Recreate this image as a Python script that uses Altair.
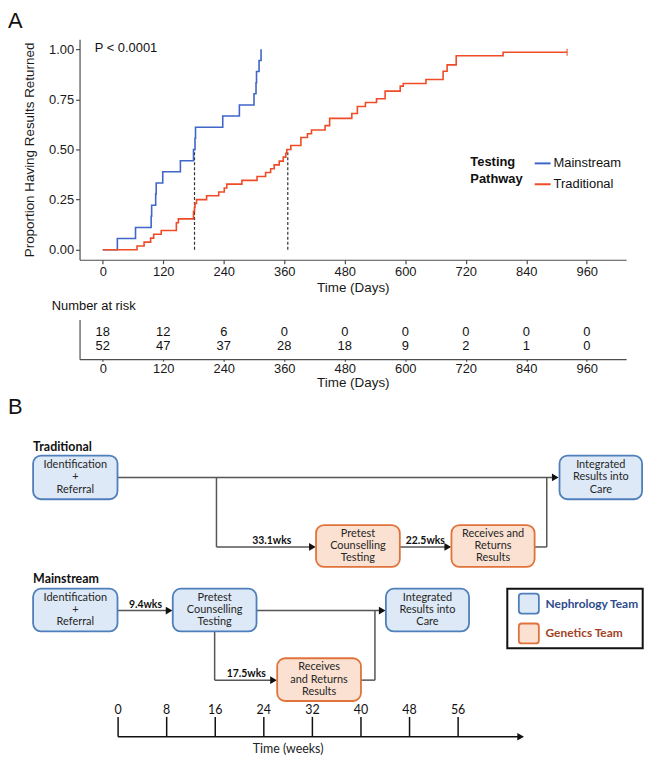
import altair as alt
import pandas as pd

# ---------------- Panel A data ----------------
main_days = [0, 29, 65, 96, 97, 105, 106, 119, 154, 180, 183, 184, 238, 271, 300, 304, 305, 310, 314]
main_prop = [0, 0.056, 0.111, 0.167, 0.222, 0.278, 0.333, 0.389, 0.444, 0.5, 0.556, 0.611,
             0.667, 0.722, 0.778, 0.833, 0.889, 0.944, 1.0]
trad_days = [0, 68, 82, 95, 101, 116, 146, 150, 180, 182, 183, 186, 206, 230, 241, 246, 276, 306,
             323, 333, 340, 350, 358, 363, 365, 373, 393, 406, 414, 441, 450, 494, 505, 521, 543,
             560, 590, 596, 641, 675, 683, 701, 794, 921]
trad_prop = [0, 0.019, 0.038, 0.058, 0.077, 0.096, 0.135, 0.154, 0.192, 0.212, 0.231, 0.25, 0.269,
             0.288, 0.308, 0.327, 0.346, 0.365, 0.385, 0.404, 0.423, 0.442, 0.462, 0.481, 0.5, 0.52,
             0.56, 0.578, 0.597, 0.619, 0.655, 0.679, 0.714, 0.734, 0.753, 0.791, 0.816, 0.829,
             0.849, 0.89, 0.922, 0.967, 0.985, 0.985]
censor_days = [921]
censor_prop = [0.985]
median_days = [182, 367]
median_prop = [0.5, 0.5]
pathways = ["Mainstream", "Traditional"]
path_colors = ["#4166C9", "#EF4B27"]

pval_text = ["P < 0.0001"]
pval_day = [-16]
pval_prop = [1.005]
legend_title_lines = ["Testing", "Pathway"]
legend_title_day = [729, 729]
legend_title_prop = [0.436, 0.351]

risk_times = [0, 120, 240, 360, 480, 600, 720, 840, 960]
risk_main = [18, 12, 6, 0, 0, 0, 0, 0, 0]
risk_trad = [52, 47, 37, 28, 18, 9, 2, 1, 0]

# ---------------- Panel B data (x in weeks) ----------------
box_team = ["Nephrology", "Nephrology", "Genetics", "Genetics",
            "Nephrology", "Nephrology", "Nephrology", "Genetics"]
box_x0 = [-14.0, 72.7, 32.6, 54.9, -14.0, 9.0, 44.1, 26.2]
box_x1 = [-0.1, 86.3, 46.4, 68.6, -0.1, 22.8, 57.8, 40.0]
box_y0 = [29, 29, 99, 99, 163, 163, 163, 233]
box_y1 = [73, 73, 141, 141, 206, 206, 206, 276]
box_lines = [["Identification", "+", "Referral"], ["Integrated", "Results into", "Care"],
             ["Pretest", "Counselling", "Testing"], ["Receives and", "Returns", "Results"],
             ["Identification", "+", "Referral"], ["Pretest", "Counselling", "Testing"],
             ["Integrated", "Results into", "Care"], ["Receives", "and Returns", "Results"]]

seg_x0 = [-0.1, 16.2, 16.2, 46.4, 68.6, 70.6, -0.1, 22.8, 15.9, 15.9, 40.0, 42.3]
seg_x1 = [71.5, 16.2, 31.9, 54.2, 70.6, 70.6, 8.3, 43.4, 15.9, 25.5, 42.3, 42.3]
seg_y0 = [51, 51, 121, 121, 121, 121, 185, 185, 206, 255, 255, 255]
seg_y1 = [51, 121, 121, 121, 121, 51, 185, 185, 255, 255, 255, 185]
arrow_x = [72.0, 32.0, 54.3, 8.4, 43.5, 25.6, 66.3]
arrow_y = [51, 121, 121, 185, 185, 255, 312]

gap_text = ["33.1wks", "22.5wks", "9.4wks", "17.5wks"]
gap_x = [25.3, 50.6, 4.5, 21.1]
gap_y = [115, 115, 179, 249]

section_text = ["Traditional", "Mainstream"]
section_x = [-14.0, -14.0]
section_y = [20, 153]

week_ticks = [0, 8, 16, 24, 32, 40, 48, 56]
week_tick_labels = ["0", "8", "16", "24", "32", "40", "48", "56"]
timeline_end = 66.0
timeline_title = "Time (weeks)"

legend_teams = ["Nephrology", "Genetics"]
legend_labels = ["Nephrology Team", "Genetics Team"]
legend_y0 = [168, 198]
legend_y1 = [188, 218]
legend_text_colors = ["#2E4B8C", "#A2431F"]
team_fill = ["#DDE9F6", "#FBE1D1"]
team_stroke = ["#4F7FBA", "#E0733B"]

# ---------------- Panel A chart ----------------
km_df = pd.concat([
    pd.DataFrame({"day": main_days, "prop": main_prop, "pathway": "Mainstream"}),
    pd.DataFrame({"day": trad_days, "prop": trad_prop, "pathway": "Traditional"}),
])
med_df = pd.DataFrame({"day": median_days, "prop": median_prop, "base": 0.0})
cens_df = pd.DataFrame({"day": censor_days, "prop": censor_prop})
pval_df = pd.DataFrame({"day": pval_day, "prop": pval_prop, "label": pval_text})
lt_df = pd.DataFrame({"day": legend_title_day, "prop": legend_title_prop,
                      "label": legend_title_lines})

xs_km = alt.Scale(domain=[-46, 1038], nice=False, zero=False)
ys_km = alt.Scale(domain=[-0.05, 1.05], nice=False, zero=False)
x_axis_km = alt.Axis(values=risk_times, title="Time (Days)", tickSize=4, labelPadding=2,
                     titlePadding=2, grid=False)
y_axis_km = alt.Axis(values=[0, 0.25, 0.5, 0.75, 1.0], format=".2f",
                     title="Proportion Having Results Returned", tickSize=4,
                     labelPadding=2, titlePadding=12, grid=False)


def KX(f="day"):
    return alt.X(f, type="quantitative", scale=xs_km, axis=x_axis_km)


def KY(f="prop"):
    return alt.Y(f, type="quantitative", scale=ys_km, axis=y_axis_km)


lines = alt.Chart(km_df).mark_line(interpolate="step-after", strokeWidth=1.6).encode(
    x=KX(), y=KY(),
    color=alt.Color("pathway:N", scale=alt.Scale(domain=pathways, range=path_colors),
                    legend=alt.Legend(title=None, orient="none", legendX=457, legendY=116,
                                      symbolType="stroke", symbolSize=256, symbolStrokeWidth=2,
                                      labelFontSize=13, labelFont="Liberation Sans",
                                      labelColor="#111", labelOffset=2, rowPadding=5, padding=0)),
)
medians = alt.Chart(med_df).mark_rule(strokeDash=[3, 2], color="#333", strokeWidth=1.2).encode(
    x=KX(), y=KY("base"), y2="prop")
cens = alt.Chart(cens_df).mark_tick(orient="vertical", size=7, thickness=1.5,
                                    color=path_colors[1]).encode(x=KX(), y=KY())
pval = alt.Chart(pval_df).mark_text(align="left", fontSize=13, font="Liberation Sans",
                                    color="#111").encode(x=KX(), y=KY(), text="label:N")
ltitle = alt.Chart(lt_df).mark_text(align="left", fontSize=13, font="Liberation Sans",
                                    fontWeight="bold", color="#111").encode(
    x=KX(), y=KY(), text="label:N")

km = alt.layer(medians, lines, cens, pval, ltitle).properties(
    width=550, height=222,
    title=alt.TitleParams("A", anchor="start", frame="group", dx=-72, fontSize=22,
                          fontWeight="normal", offset=6))

# ---------------- Risk table ----------------
risk_df = pd.concat([
    pd.DataFrame({"day": risk_times, "n": risk_main, "row": 1}),
    pd.DataFrame({"day": risk_times, "n": risk_trad, "row": 0}),
])
risk = alt.Chart(risk_df).mark_text(fontSize=13, font="Liberation Sans", color="#111").encode(
    x=alt.X("day:Q", scale=alt.Scale(domain=[-46, 1038], nice=False, zero=False),
            axis=alt.Axis(values=risk_times, title="Time (Days)", tickSize=2, labelPadding=1,
                          titlePadding=1, grid=False)),
    y=alt.Y("row:Q", scale=alt.Scale(domain=[-0.93, 1.93], nice=False, zero=False),
            axis=alt.Axis(labels=False, ticks=False, title="", grid=False)),
    text="n:Q",
).properties(width=550, height=40,
             title=alt.TitleParams("Number at risk", anchor="start", frame="group", dx=-28,
                                   fontSize=13, fontWeight="normal", offset=6))

# ---------------- Panel B flowchart ----------------
xs_f = alt.Scale(domain=[-6.35, 85.96], nice=False, zero=False)
ys_f = alt.Scale(domain=[0, 331], nice=False, zero=False, reverse=True)


def FX(f):
    return alt.X(f, type="quantitative", scale=xs_f, axis=None)


def FY(f):
    return alt.Y(f, type="quantitative", scale=ys_f, axis=None)


team_fill_scale = alt.Scale(domain=legend_teams, range=team_fill)
team_stroke_scale = alt.Scale(domain=legend_teams, range=team_stroke)

box_df = pd.DataFrame({"x0": box_x0, "x1": box_x1, "y0": box_y0, "y1": box_y1, "team": box_team})
rows = []
for i, ls in enumerate(box_lines):
    cx = (box_x0[i] + box_x1[i]) / 2
    cy = (box_y0[i] + box_y1[i]) / 2
    for j, t in enumerate(ls):
        rows.append({"x": cx, "y": cy + (j - 1) * 12.3, "t": t})
box_text_df = pd.DataFrame(rows)
seg_df = pd.DataFrame({"x0": seg_x0, "x1": seg_x1, "y0": seg_y0, "y1": seg_y1})
arrow_df = pd.DataFrame({"x": arrow_x, "y": arrow_y})
gap_df = pd.DataFrame({"x": gap_x, "y": gap_y, "t": gap_text})
sec_df = pd.DataFrame({"x": section_x, "y": section_y, "t": section_text})
tick_df = pd.DataFrame({"x": week_ticks, "t": week_tick_labels, "y0": 292, "y1": 312, "yl": 285})
tl_df = pd.DataFrame({"x0": [0], "x1": [timeline_end], "y": [312], "xt": [28], "yt": [324],
                      "t": [timeline_title]})
leg_frame_df = pd.DataFrame({"x0": [64.1], "x1": [86.4], "y0": [163], "y1": [223]})
leg_df = pd.DataFrame({"team": legend_teams, "label": legend_labels, "y0": legend_y0,
                       "y1": legend_y1, "x0": 66.0, "x1": 69.3, "xt": 70.4,
                       "col": legend_text_colors})
leg_df["yt"] = (leg_df["y0"] + leg_df["y1"]) / 2

segs = alt.Chart(seg_df).mark_rule(color="#555", strokeWidth=1.5).encode(
    x=FX("x0"), x2="x1", y=FY("y0"), y2="y1")
arrows = alt.Chart(arrow_df).mark_point(shape="triangle-right", filled=True, size=60,
                                        color="#111", opacity=1).encode(x=FX("x"), y=FY("y"))
boxes = alt.Chart(box_df).mark_rect(cornerRadius=8, strokeWidth=1.8).encode(
    x=FX("x0"), x2="x1", y=FY("y0"), y2="y1",
    fill=alt.Fill("team:N", scale=team_fill_scale, legend=None),
    stroke=alt.Stroke("team:N", scale=team_stroke_scale, legend=None))
box_text = alt.Chart(box_text_df).mark_text(font="Lato", fontSize=11, color="#262626").encode(
    x=FX("x"), y=FY("y"), text="t:N")
gaps = alt.Chart(gap_df).mark_text(font="Lato", fontSize=10.5, fontWeight="bold",
                                   color="#111").encode(x=FX("x"), y=FY("y"), text="t:N")
secs = alt.Chart(sec_df).mark_text(font="Lato", fontSize=12.5, fontWeight="bold", align="left",
                                   color="#111").encode(x=FX("x"), y=FY("y"), text="t:N")
ticks = alt.Chart(tick_df).mark_rule(color="#111", strokeWidth=1.5).encode(
    x=FX("x"), y=FY("y0"), y2="y1")
tick_lab = alt.Chart(tick_df).mark_text(font="Lato", fontSize=12.5, color="#111").encode(
    x=FX("x"), y=FY("yl"), text="t:N")
tline = alt.Chart(tl_df).mark_rule(color="#111", strokeWidth=1.5).encode(
    x=FX("x0"), x2="x1", y=FY("y"))
ttitle = alt.Chart(tl_df).mark_text(font="Lato", fontSize=12.5, color="#222").encode(
    x=FX("xt"), y=FY("yt"), text="t:N")
leg_frame = alt.Chart(leg_frame_df).mark_rect(fill="white", fillOpacity=0, stroke="#111",
                                              strokeWidth=2).encode(
    x=FX("x0"), x2="x1", y=FY("y0"), y2="y1")
leg_sq = alt.Chart(leg_df).mark_rect(cornerRadius=3, strokeWidth=1.8).encode(
    x=FX("x0"), x2="x1", y=FY("y0"), y2="y1",
    fill=alt.Fill("team:N", scale=team_fill_scale, legend=None),
    stroke=alt.Stroke("team:N", scale=team_stroke_scale, legend=None))
leg_txt = alt.Chart(leg_df).mark_text(font="Lato", fontSize=12, fontWeight="bold",
                                      align="left").encode(
    x=FX("xt"), y=FY("yt"), text="label:N", color=alt.Color("col:N", scale=None))

flow = alt.layer(segs, arrows, boxes, box_text, gaps, secs, ticks, tick_lab, tline, ttitle,
                 leg_frame, leg_sq, leg_txt).properties(
    width=564, height=331,
    title=alt.TitleParams("B", anchor="start", frame="group", dx=-72, fontSize=22,
                          fontWeight="normal", offset=8))

chart = alt.vconcat(km, risk, flow, spacing=6).properties(padding=0).configure_view(
    stroke=None
).configure_axis(
    domainColor="#4d4d4d", tickColor="#4d4d4d", labelColor="#1a1a1a", titleColor="#1a1a1a",
    labelFont="Liberation Sans", titleFont="Liberation Sans", labelFontSize=13,
    titleFontSize=13.5, titleFontWeight="normal", domainWidth=1.2, tickWidth=1.2
).configure_title(font="Liberation Sans", color="#111")

chart.save("out.html", embed_options={"renderer": "svg", "actions": False})
